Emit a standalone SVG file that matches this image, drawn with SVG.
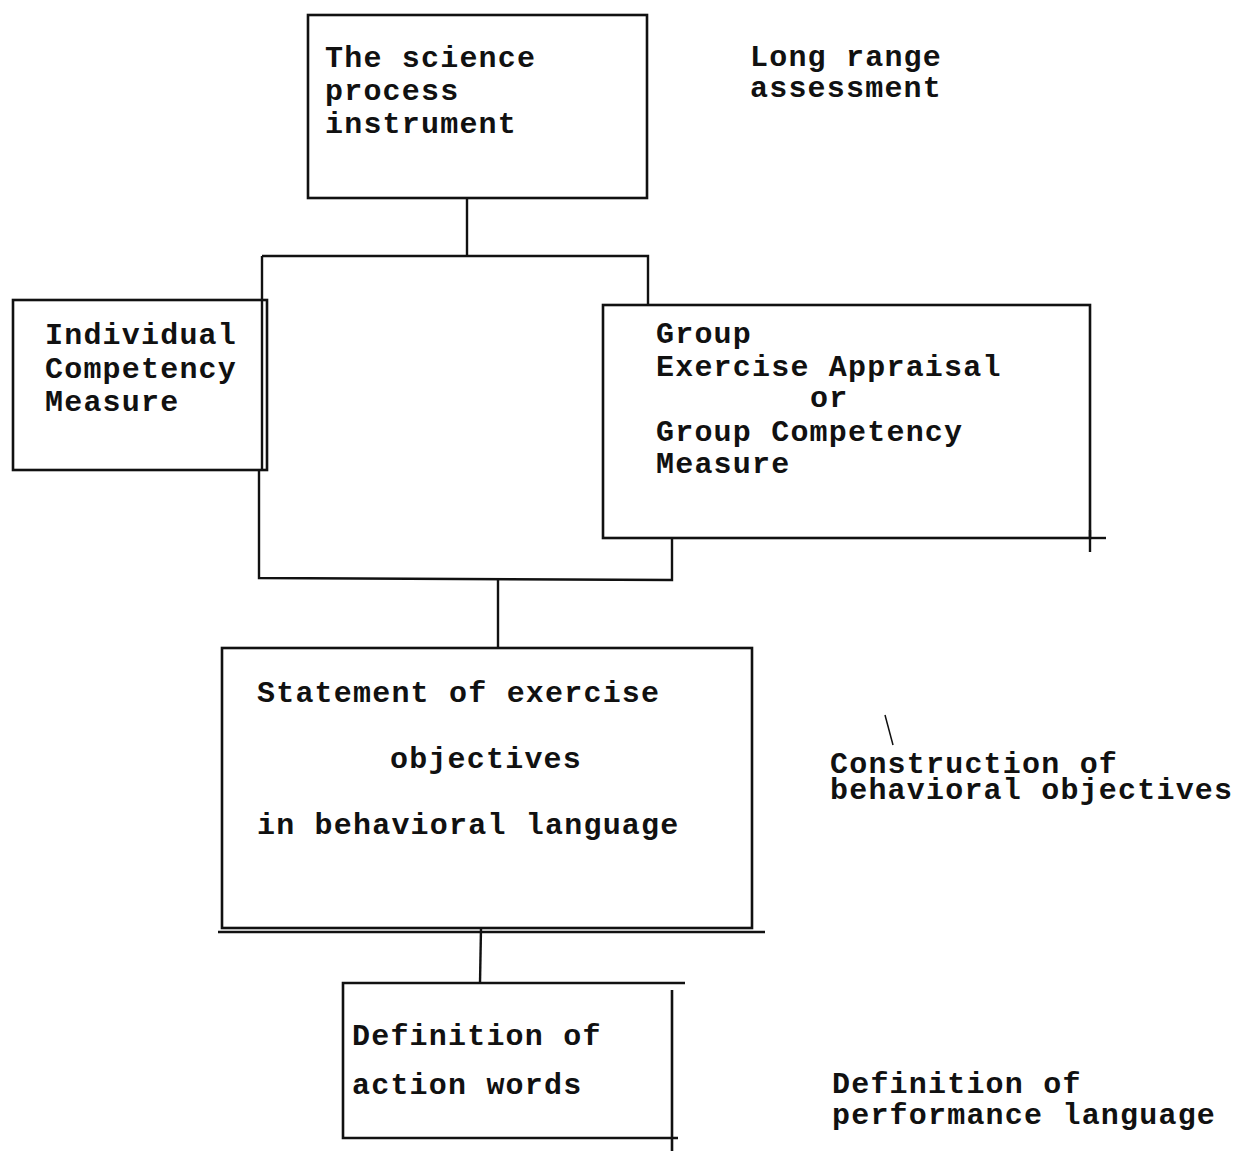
<svg xmlns="http://www.w3.org/2000/svg" width="1234" height="1151" viewBox="0 0 1234 1151">
  <style>
    .box { fill: none; stroke: #111; stroke-width: 2.6; }
    .wire { fill: none; stroke: #111; stroke-width: 2.4; stroke-linejoin: miter; }
    .t { font-family: "Liberation Mono", "Courier New", monospace; font-size: 30px; letter-spacing: 1.2px; font-weight: bold; fill: #111; }
  </style>
  <rect width="1234" height="1151" fill="#fff"/>

  <!-- connectors -->
  <g id="connectors">
    <!-- top instrument down to the split bar -->
    <polyline class="wire" points="467,198 467,256"/>
    <polyline class="wire" points="262,256 648,256 648,305"/>
    <!-- left branch running past the individual measure -->
    <polyline class="wire" points="262,256 262,470"/>
    <polyline class="wire" points="259,470 259,578 672,580 672,538"/>
    <!-- join down to the statement of objectives -->
    <polyline class="wire" points="498,580 498,648"/>
    <!-- statement down to action words -->
    <polyline class="wire" points="481,928 480,983"/>
    <!-- stray tick marks -->
    <line class="wire" x1="1090" y1="538" x2="1106" y2="538"/>
    <line class="wire" x1="1090" y1="530" x2="1090" y2="552"/>
    <line x1="885" y1="715" x2="893" y2="745" stroke="#111" stroke-width="1.5"/>
  </g>

  <g id="node-instrument">
    <rect class="box" x="308" y="15" width="339" height="183"/>
    <text class="t" x="325" y="67">The science</text>
    <text class="t" x="325" y="100">process</text>
    <text class="t" x="325" y="133">instrument</text>
  </g>

  <g id="label-long-range">
    <text class="t" x="750" y="66">Long range</text>
    <text class="t" x="750" y="97">assessment</text>
  </g>

  <g id="node-individual">
    <rect class="box" x="13" y="300" width="254" height="170"/>
    <text class="t" x="45" y="344">Individual</text>
    <text class="t" x="45" y="378">Competency</text>
    <text class="t" x="45" y="411">Measure</text>
  </g>

  <g id="node-group">
    <rect class="box" x="603" y="305" width="487" height="233"/>
    <text class="t" x="656" y="343">Group</text>
    <text class="t" x="656" y="376">Exercise Appraisal</text>
    <text class="t" x="810" y="407">or</text>
    <text class="t" x="656" y="441">Group Competency</text>
    <text class="t" x="656" y="473">Measure</text>
  </g>

  <g id="node-statement">
    <rect class="box" x="222" y="648" width="530" height="280"/>
    <line class="wire" x1="218" y1="932" x2="765" y2="932" stroke-width="2"/>
    <text class="t" x="257" y="702">Statement of exercise</text>
    <text class="t" x="390" y="768">objectives</text>
    <text class="t" x="257" y="834">in behavioral language</text>
  </g>

  <g id="label-construction">
    <text class="t" x="830" y="773">Construction of</text>
    <text class="t" x="830" y="799">behavioral objectives</text>
  </g>

  <g id="node-action-words">
    <polyline class="box" points="685,983 343,983 343,1138 678,1138"/>
    <line class="box" x1="672" y1="990" x2="672" y2="1151"/>
    <text class="t" x="352" y="1045">Definition of</text>
    <text class="t" x="352" y="1094">action words</text>
  </g>

  <g id="label-performance">
    <text class="t" x="832" y="1093">Definition of</text>
    <text class="t" x="832" y="1124">performance language</text>
  </g>
</svg>
